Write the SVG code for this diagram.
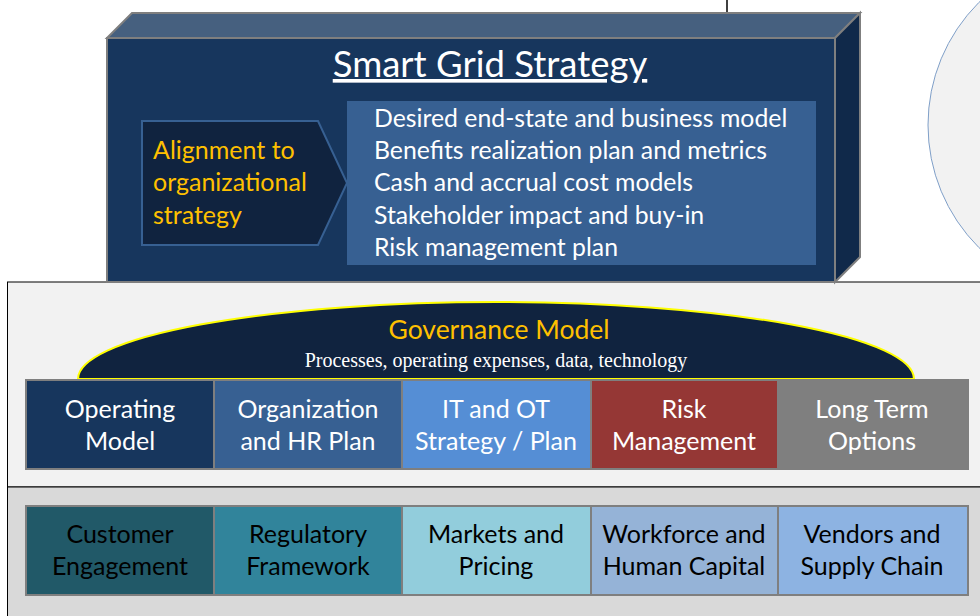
<svg xmlns="http://www.w3.org/2000/svg" width="980" height="616" viewBox="0 0 980 616">
<style>
.sans{font-family:Lato,"Open Sans","Liberation Sans",sans-serif}
.box{stroke:#7f7f7f;stroke-width:2}
.wt{fill:#ffffff;font-size:25px;text-anchor:middle}
.bt{fill:#000000;font-size:25px;text-anchor:middle}
.list{fill:#ffffff;font-size:24.8px}
.yel{fill:#ffc000}
</style>
<rect width="980" height="616" fill="#ffffff"/>
<line x1="727" y1="0" x2="727" y2="14" stroke="#000" stroke-width="1.5"/>
<circle cx="1101" cy="125" r="173" fill="#f2f2f2" stroke="#7f9fc8" stroke-width="1"/>
<g id="middle-panel">
<rect x="7.5" y="282" width="990" height="205" fill="#f2f2f2" stroke="#000" stroke-width="1"/>
</g>
<g id="bottom-panel">
<rect x="7.5" y="487" width="990" height="140" fill="#d9d9d9" stroke="#000" stroke-width="1"/>
</g>
<g id="smart-grid-strategy">
<polygon points="107,38 132,13 860,13 835,38" fill="#46607f" class="box"/>
<polygon points="835,38 860,13 860,257 835,282" fill="#10294a" class="box"/>
<rect x="107" y="38" width="728" height="244" fill="#17365d" class="box"/>
<text x="490" y="77" class="sans" fill="#ffffff" font-size="36.5" text-anchor="middle" text-decoration="underline">Smart Grid Strategy</text>
</g>
<g id="alignment">
<polygon points="142,121 318,121 347,183 318,245 142,245" fill="#10233f" stroke="#376092" stroke-width="2"/>
<text class="sans yel" font-size="25"><tspan x="153" y="159">Alignment to</tspan><tspan x="153" y="191">organizational</tspan><tspan x="153" y="224">strategy</tspan></text>
</g>
<g id="strategy-list">
<rect x="347" y="101" width="469" height="164" fill="#376092"/>
<text class="sans list"><tspan x="374" y="127">Desired end-state and business model</tspan><tspan x="374" y="159">Benefits realization plan and metrics</tspan><tspan x="374" y="191">Cash and accrual cost models</tspan><tspan x="374" y="224">Stakeholder impact and buy-in</tspan><tspan x="374" y="256">Risk management plan</tspan></text>
</g>
<g id="governance-model">
<path d="M78,379 A418,77 0 0 1 914,379 Z" fill="#10233f" stroke="#ffff00" stroke-width="2"/>
<text x="499" y="339" class="sans yel" font-size="26.5" text-anchor="middle">Governance Model</text>
<text x="496" y="367" font-family="'Liberation Serif','DejaVu Serif',serif" font-size="20" fill="#ffffff" text-anchor="middle">Processes, operating expenses, data, technology</text>
</g>
<g id="operating-model"><rect x="26" y="380" width="188" height="89" fill="#17365d" class="box"/><text class="sans wt"><tspan x="120" y="418">Operating</tspan><tspan x="120" y="450">Model</tspan></text></g>
<g id="organization-hr"><rect x="214" y="380" width="188" height="89" fill="#376092" class="box"/><text class="sans wt"><tspan x="308" y="418">Organization</tspan><tspan x="308" y="450">and HR Plan</tspan></text></g>
<g id="it-ot"><rect x="402" y="380" width="189" height="89" fill="#558ed5" class="box"/><text class="sans wt"><tspan x="496" y="418">IT and OT</tspan><tspan x="496" y="450">Strategy / Plan</tspan></text></g>
<g id="risk-management"><rect x="591" y="380" width="187" height="89" fill="#953735" class="box"/><text class="sans wt"><tspan x="684" y="418">Risk</tspan><tspan x="684" y="450">Management</tspan></text></g>
<g id="long-term"><rect x="778" y="380" width="190" height="89" fill="#7f7f7f" class="box"/><text class="sans wt"><tspan x="872" y="418">Long Term</tspan><tspan x="872" y="450">Options</tspan></text></g>
<g id="customer-engagement"><rect x="26" y="506" width="188" height="89" fill="#215968" class="box"/><text class="sans bt"><tspan x="120" y="543">Customer</tspan><tspan x="120" y="575">Engagement</tspan></text></g>
<g id="regulatory-framework"><rect x="214" y="506" width="188" height="89" fill="#31849b" class="box"/><text class="sans bt"><tspan x="308" y="543">Regulatory</tspan><tspan x="308" y="575">Framework</tspan></text></g>
<g id="markets-pricing"><rect x="402" y="506" width="189" height="89" fill="#92cddc" class="box"/><text class="sans bt"><tspan x="496" y="543">Markets and</tspan><tspan x="496" y="575">Pricing</tspan></text></g>
<g id="workforce"><rect x="591" y="506" width="187" height="89" fill="#95b3d7" class="box"/><text class="sans bt"><tspan x="684" y="543">Workforce and</tspan><tspan x="684" y="575">Human Capital</tspan></text></g>
<g id="vendors"><rect x="778" y="506" width="190" height="89" fill="#8db3e2" class="box"/><text class="sans bt"><tspan x="872" y="543">Vendors and</tspan><tspan x="872" y="575">Supply Chain</tspan></text></g>
<g id="connectors"></g>
</svg>
